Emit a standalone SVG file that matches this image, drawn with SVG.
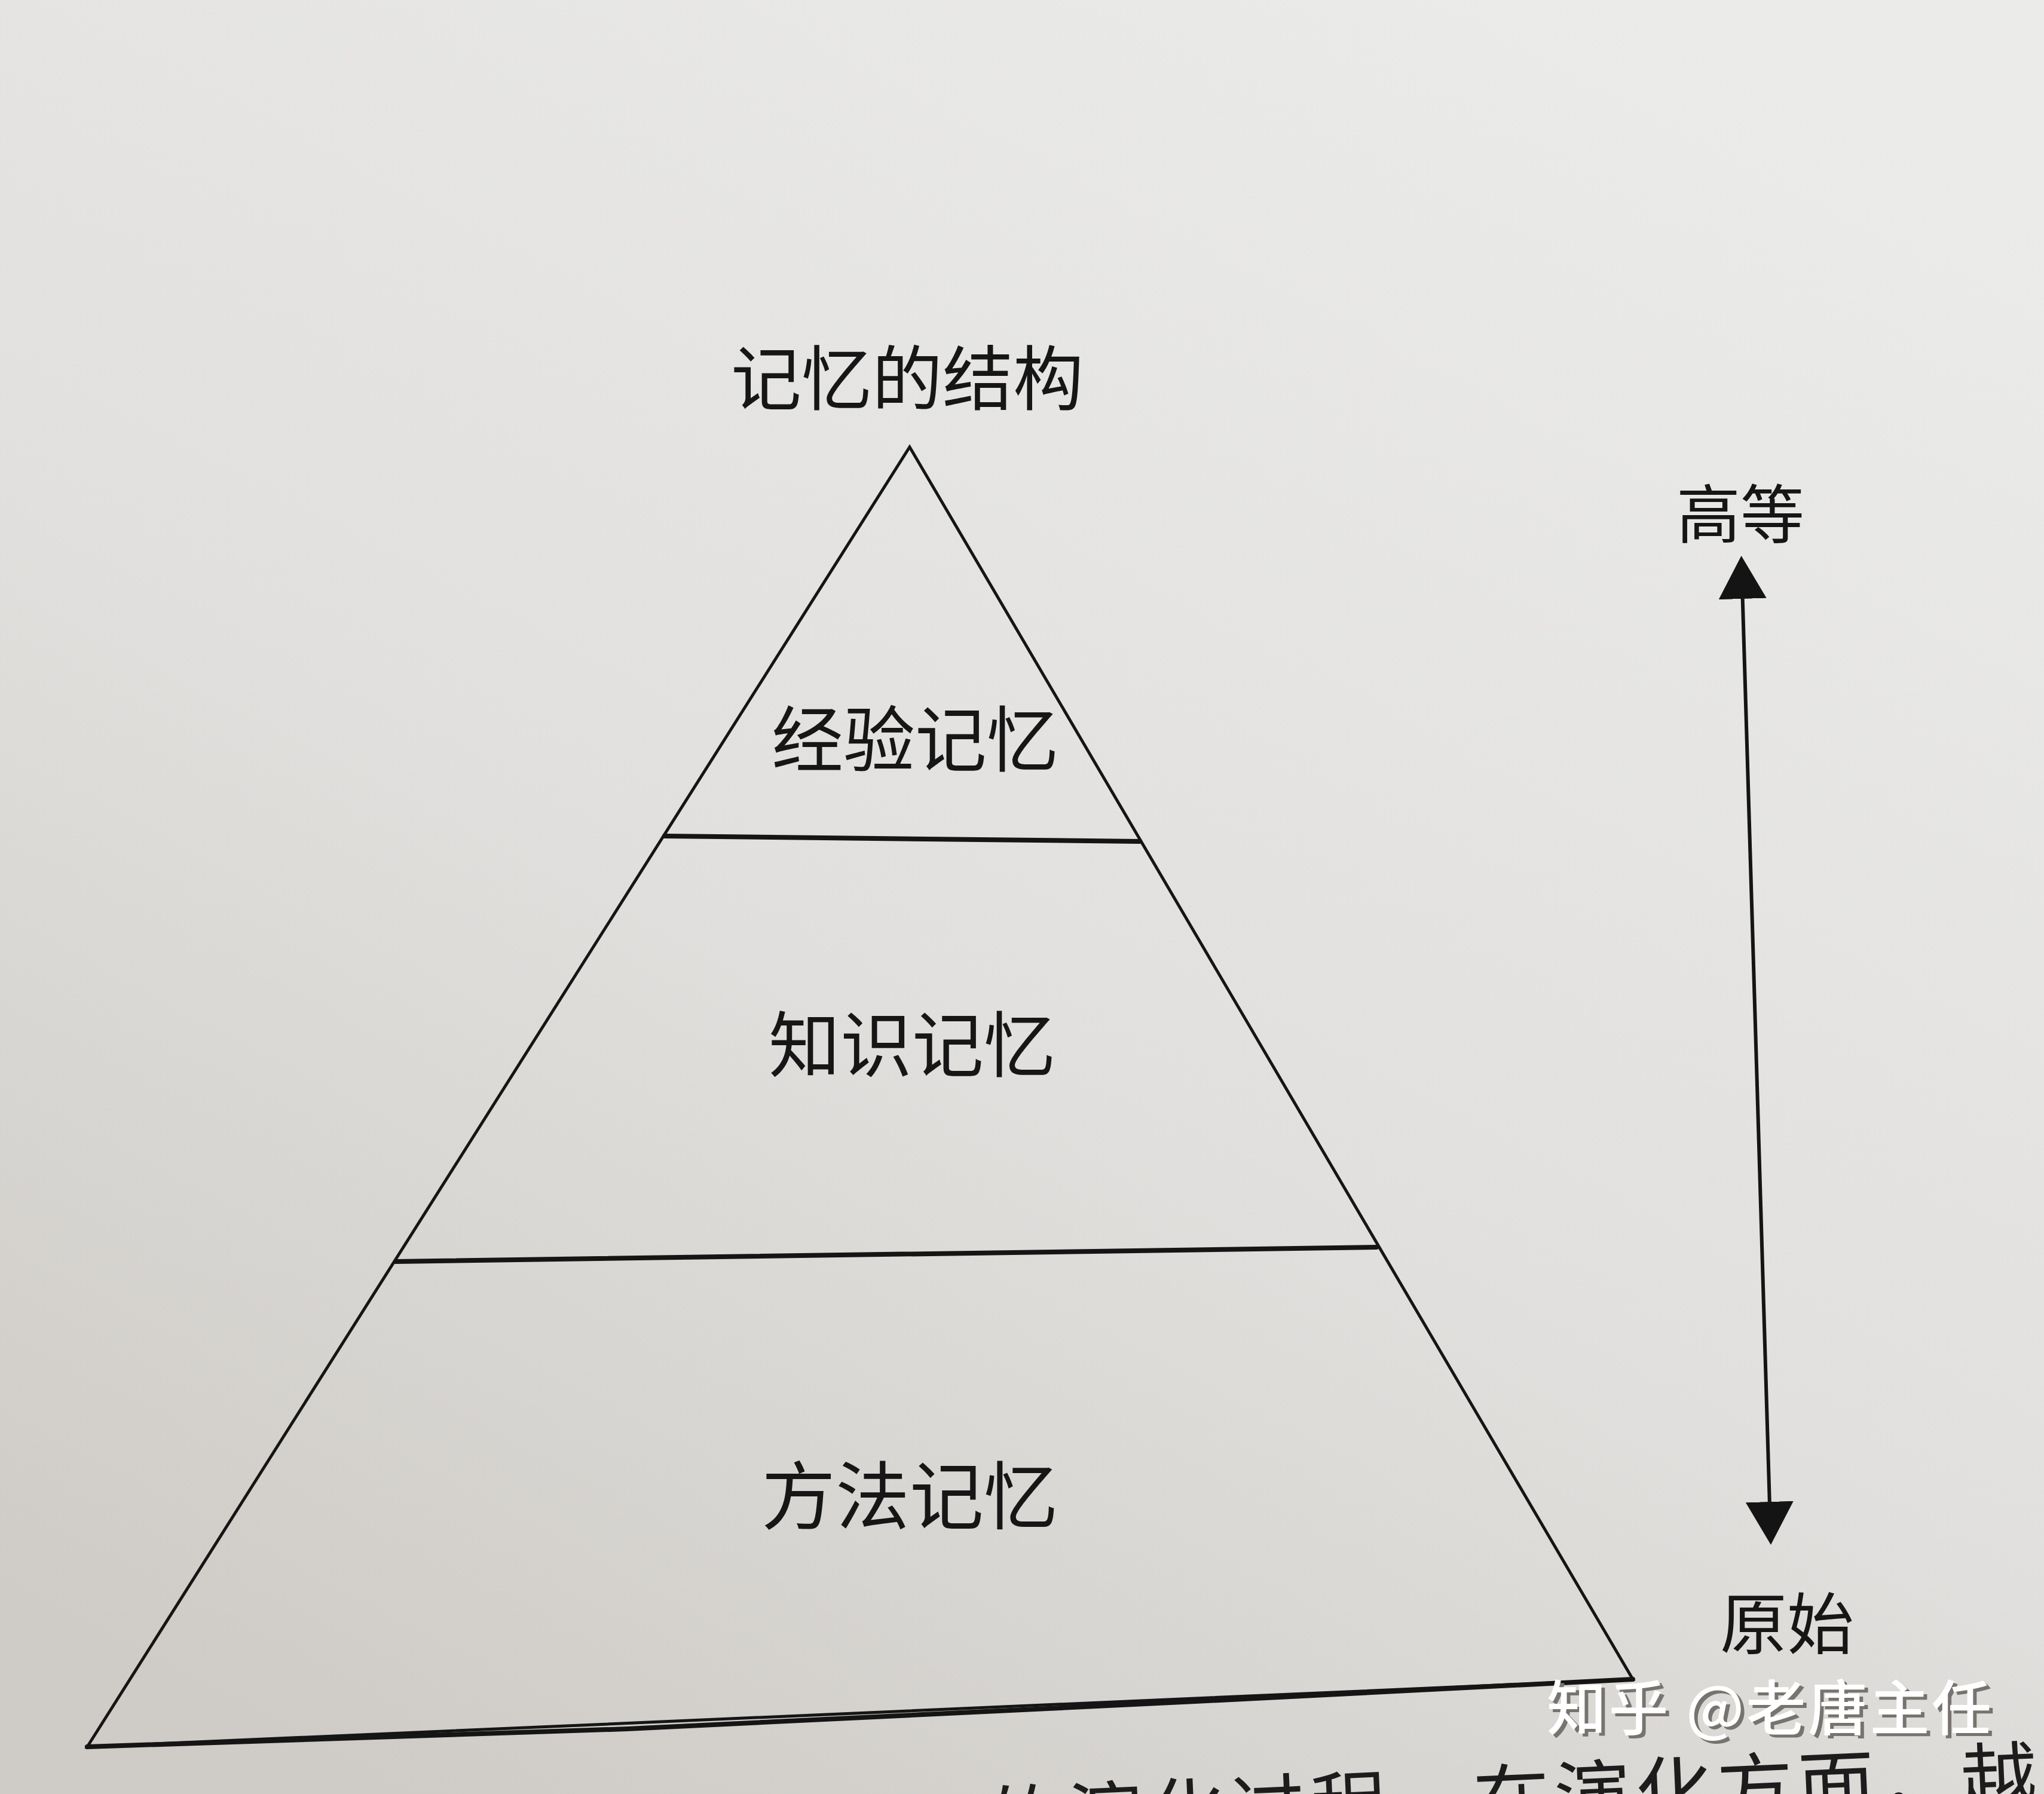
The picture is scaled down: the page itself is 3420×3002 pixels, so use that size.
<svg xmlns="http://www.w3.org/2000/svg" width="3420" height="3002" viewBox="0 0 3420 3002">
  <defs>
    <linearGradient id="paper" x1="0.8" y1="0" x2="0.2" y2="1">
      <stop offset="0" stop-color="#ebebea"/>
      <stop offset="0.55" stop-color="#e1e0de"/>
      <stop offset="1" stop-color="#cfccc7"/>
    </linearGradient>
    <marker id="head" viewBox="0 0 72 80" refX="0" refY="40" markerWidth="72" markerHeight="80" markerUnits="userSpaceOnUse" orient="auto-start-reverse">
      <path d="M0,0 L72,40 L0,80 Z" fill="#141414"/>
    </marker>
    <style>
      .lbl { font-family: "Noto Sans CJK SC", "Noto Sans", sans-serif; fill: #161616; text-anchor: middle; }
      .edge { stroke: #151515; fill: none; stroke-linecap: round; stroke-linejoin: miter; }
      .wm { font-family: "Noto Sans CJK SC", "Noto Sans", sans-serif; font-weight: 500; font-size: 100px; }
    </style>
  </defs>

  <rect x="0" y="0" width="3420" height="3002" fill="url(#paper)"/>

  <g id="title">
    <text class="lbl" x="1518" y="677" font-size="118">记忆的结构</text>
  </g>

  <g id="pyramid">
    <polygon class="edge" points="1522,748 2732,2810 146,2923" stroke-width="5"/>
    <path class="edge" d="M146,2923 L1050,2893 L2000,2847 L2732,2810" stroke-width="8"/>
  </g>

  <g id="node-experience">
    <text class="lbl" x="1531" y="1282" font-size="120">经验记忆</text>
  </g>
  <g id="divider-1">
    <line class="edge" x1="1112" y1="1399" x2="1907" y2="1408" stroke-width="8"/>
  </g>

  <g id="node-knowledge">
    <text class="lbl" x="1526" y="1793" font-size="120">知识记忆</text>
  </g>
  <g id="divider-2">
    <line class="edge" x1="662" y1="2111" x2="2303" y2="2087" stroke-width="8"/>
  </g>

  <g id="node-method">
    <text class="lbl" x="1522" y="2549" font-size="124">方法记忆</text>
  </g>

  <g id="connectors">
    <line x1="2915.7" y1="1002" x2="2960.8" y2="2513" stroke="#141414" stroke-width="6" marker-start="url(#head)" marker-end="url(#head)"/>
  </g>

  <g id="label-high">
    <text class="lbl" x="2912" y="900" font-size="107">高等</text>
  </g>
  <g id="label-primitive">
    <text class="lbl" x="2990" y="2759" font-size="112">原始</text>
  </g>

  <g id="page-text">
    <text x="1652" y="3096" font-family="Noto Sans CJK SC, sans-serif" font-size="128" letter-spacing="8" fill="#1c1c1c" transform="rotate(-2.5 1652 3096)">的演化过程，在演化方面，越</text>
  </g>

  <g id="watermark">
    <text class="wm" x="2594" y="2900" fill="#77736e" textLength="744" lengthAdjust="spacing">知乎 @老唐主任</text>
    <text class="wm" x="2588" y="2895" fill="#ffffff" textLength="744" lengthAdjust="spacing">知乎 @老唐主任</text>
  </g>
</svg>
